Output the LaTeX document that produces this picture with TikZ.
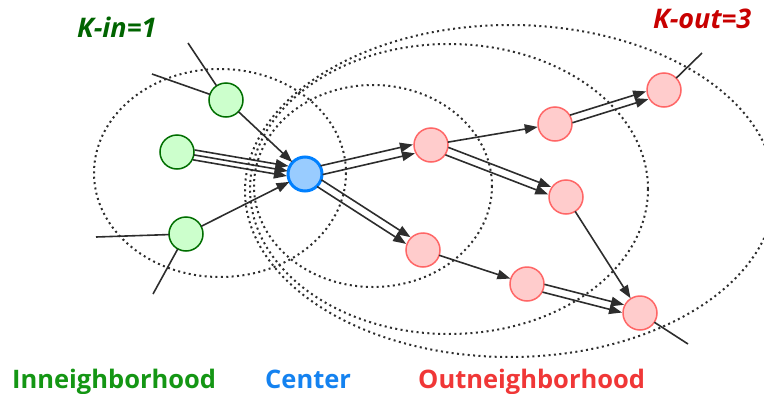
\documentclass[tikz,border=0pt]{standalone}
\usepackage{fontspec}
\setmainfont{Open Sans}
\usetikzlibrary{arrows.meta,calc}
\definecolor{edgec}{RGB}{45,45,45}
\definecolor{dotc}{RGB}{45,45,45}
\definecolor{gfill}{RGB}{204,255,204}
\definecolor{gline}{RGB}{0,110,0}
\definecolor{bfill}{RGB}{153,204,255}
\definecolor{bline}{RGB}{0,128,255}
\definecolor{rfill}{RGB}{255,204,204}
\definecolor{rline}{RGB}{255,102,102}
\definecolor{kin}{RGB}{0,100,0}
\definecolor{kout}{RGB}{200,0,0}
\definecolor{tin}{RGB}{20,150,20}
\definecolor{tcen}{RGB}{20,130,240}
\definecolor{tout}{RGB}{240,55,55}
\newcommand\medge[4][arr]{\draw[#1] ($(#2)!#4!90:(#3)$) -- ($(#3)!#4!-90:(#2)$);}
\begin{document}
\begin{tikzpicture}[x=1pt,y=-1pt,
  dotring/.style={draw=dotc,line width=2pt,dash pattern=on 2pt off 3.4pt},
  gnode/.style={circle,minimum size=34pt,inner sep=0pt,fill=gfill,draw=gline,line width=1.5pt},
  bnode/.style={circle,minimum size=34pt,inner sep=0pt,fill=bfill,draw=bline,line width=3pt},
  rnode/.style={circle,minimum size=34pt,inner sep=0pt,fill=rfill,draw=rline,line width=1.5pt},
  arr/.style={draw=edgec,line width=1.6pt,-{Triangle[length=13pt,width=9.5pt]},shorten <=17pt,shorten >=17.5pt},
  plain/.style={draw=edgec,line width=1.6pt,shorten >=17pt},
  plainout/.style={draw=edgec,line width=1.6pt,shorten <=17pt},
  lbl/.style={font=\bfseries\fontsize{25.5}{28}\selectfont,anchor=base west,inner sep=0pt},
  klbl/.style={font=\bfseries\itshape\fontsize{27}{30}\selectfont,anchor=base west,inner sep=0pt}]
\useasboundingbox (0,0) rectangle (764,394);
% rings
\draw[dotring] (220,173) ellipse [x radius=126, y radius=104];
\draw[dotring] (373,186) ellipse [x radius=119, y radius=101];
\draw[dotring] (449,189) ellipse [x radius=199, y radius=145];
\draw[dotring] (510,191) ellipse [x radius=265, y radius=166];
% nodes
\node[gnode] (gt) at (226,100) {};
\node[gnode] (gm) at (177,152) {};
\node[gnode] (gb) at (186,234) {};
\node[bnode] (c) at (305,174) {};
\node[rnode] (r1) at (431,145) {};
\node[rnode] (r2) at (423,250) {};
\node[rnode] (r3) at (555,124) {};
\node[rnode] (r4) at (566,197) {};
\node[rnode] (r5) at (527,284) {};
\node[rnode] (r6) at (664,90) {};
\node[rnode] (r7) at (640,313) {};
\coordinate (f1) at (152,74);
\coordinate (f2) at (188,43);
\coordinate (f3) at (96,237);
\coordinate (f4) at (153,294);
\coordinate (f5) at (702,53);
\coordinate (f6) at (688,344);
% free edges
\draw[plain] (f1) -- (gt.center);
\draw[plain] (f2) -- (gt.center);
\draw[plain] (f3) -- (gb.center);
\draw[plain] (f4) -- (gb.center);
\draw[plainout] (r6.center) -- (f5);
\draw[plainout] (r7.center) -- (f6);
% edges
\medge{gt}{c}{0pt}
\medge{gm}{c}{5pt}
\medge{gm}{c}{0pt}
\medge{gm}{c}{-5pt}
\medge{gb}{c}{0pt}
\medge{c}{r1}{4.5pt}
\medge{c}{r1}{-4.5pt}
\medge{c}{r2}{4pt}
\medge{c}{r2}{-4pt}
\medge{r1}{r3}{0pt}
\medge{r1}{r4}{4pt}
\medge{r1}{r4}{-4pt}
\medge{r3}{r6}{4pt}
\medge{r3}{r6}{-4pt}
\medge{r4}{r7}{0pt}
\medge{r2}{r5}{0pt}
\medge{r5}{r7}{4pt}
\medge{r5}{r7}{-4pt}
% labels
\node[klbl,text=kin] (kin) at (77,37) {K-in=1};
\node[klbl,text=kout] (kout) at (653,28) {K-out=3};
\node[lbl,text=tin] (lin) at (12,388) {Inneighborhood};
\node[lbl,text=tcen] (lcen) at (265,388) {Center};
\node[lbl,text=tout] (lout) at (418,388) {Outneighborhood};
\end{tikzpicture}
\end{document}
